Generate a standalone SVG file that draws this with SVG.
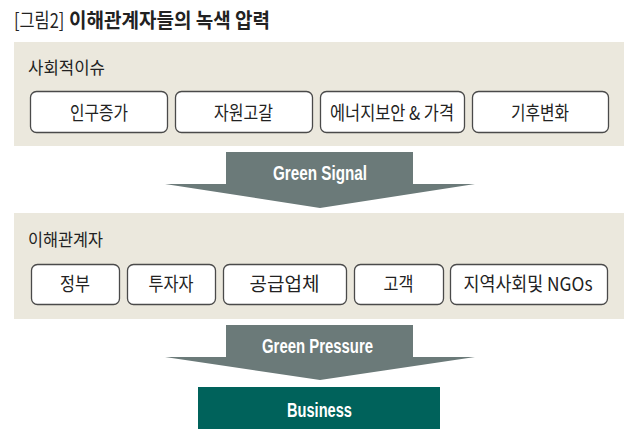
<svg xmlns="http://www.w3.org/2000/svg" width="640" height="442" viewBox="0 0 640 442">
<style>
.panel{fill:#ebe8dd}
.box{fill:#ffffff;stroke:#4a4a4a;stroke-width:1.3}
.kt{font-family:"Noto Sans CJK KR","Noto Sans",sans-serif;fill:#222}
.bt{font-size:19px;text-anchor:middle}
.lbl{font-size:17px}
.arrow{fill:#6b7a79}
.et{font-family:"Liberation Sans","Noto Sans",sans-serif;font-weight:bold;font-size:20px;fill:#ffffff;text-anchor:middle}
</style>
<rect width="640" height="442" fill="#ffffff"/>
<g id="title">
<text class="kt" transform="translate(14 28) scale(0.82 1)" x="0" y="0" font-size="20" fill="#333">[그림2]</text>
<text class="kt" x="69" y="28" font-size="20" font-weight="bold" fill="#111" textLength="201" lengthAdjust="spacingAndGlyphs">이해관계자들의 녹색 압력</text>
</g>
<g id="panel-social">
<rect class="panel" x="14" y="42" width="610" height="104"/>
<text class="kt lbl" x="28" y="74" textLength="77" lengthAdjust="spacingAndGlyphs">사회적이슈</text>
</g>
<g id="n-population"><rect class="box" x="30.5" y="91.5" width="137" height="41" rx="6"/><text class="kt bt" x="99" y="120" textLength="58" lengthAdjust="spacingAndGlyphs">인구증가</text></g>
<g id="n-resource"><rect class="box" x="175.5" y="91.5" width="137" height="41" rx="6"/><text class="kt bt" x="243.5" y="120" textLength="59" lengthAdjust="spacingAndGlyphs">자원고갈</text></g>
<g id="n-energy"><rect class="box" x="320.5" y="91.5" width="144" height="41" rx="6"/><text class="kt bt" x="392" y="120" textLength="124" lengthAdjust="spacingAndGlyphs">에너지보안 &amp; 가격</text></g>
<g id="n-climate"><rect class="box" x="472.5" y="91.5" width="136" height="41" rx="6"/><text class="kt bt" x="540" y="120" textLength="58" lengthAdjust="spacingAndGlyphs">기후변화</text></g>
<g id="panel-stakeholders">
<rect class="panel" x="14" y="213" width="610" height="106"/>
<text class="kt lbl" x="28" y="246" textLength="75" lengthAdjust="spacingAndGlyphs">이해관계자</text>
</g>
<g id="n-gov"><rect class="box" x="31.5" y="264.5" width="88" height="40" rx="6"/><text class="kt bt" x="75" y="290.5" textLength="30" lengthAdjust="spacingAndGlyphs">정부</text></g>
<g id="n-investor"><rect class="box" x="127.5" y="264.5" width="88" height="40" rx="6"/><text class="kt bt" x="171" y="290.5" textLength="45" lengthAdjust="spacingAndGlyphs">투자자</text></g>
<g id="n-supplier"><rect class="box" x="223.5" y="264.5" width="123" height="40" rx="6"/><text class="kt bt" x="284.5" y="290.5" textLength="70" lengthAdjust="spacingAndGlyphs">공급업체</text></g>
<g id="n-customer"><rect class="box" x="354.5" y="264.5" width="89" height="40" rx="6"/><text class="kt bt" x="398.5" y="290.5" textLength="30" lengthAdjust="spacingAndGlyphs">고객</text></g>
<g id="n-community"><rect class="box" x="450.5" y="264.5" width="157" height="40" rx="6"/><text class="kt bt" x="528" y="290.5" textLength="129" lengthAdjust="spacingAndGlyphs">지역사회및 NGOs</text></g>
<g id="connectors">
<g id="arrow-signal">
<polygon class="arrow" points="226,152 413,152 413,184 475,184 320,208 165,184 226,184"/>
<text class="et" x="320" y="180" textLength="94" lengthAdjust="spacingAndGlyphs">Green Signal</text>
</g>
<g id="arrow-pressure">
<polygon class="arrow" points="226,325 413,325 413,357 475,357 320,380 165,357 226,357"/>
<text class="et" x="317.5" y="353" textLength="111" lengthAdjust="spacingAndGlyphs">Green Pressure</text>
</g>
</g>
<g id="n-business">
<rect x="198" y="387" width="242" height="42" fill="#00625b"/>
<text class="et" x="319.5" y="417" textLength="65" lengthAdjust="spacingAndGlyphs">Business</text>
</g>
</svg>
